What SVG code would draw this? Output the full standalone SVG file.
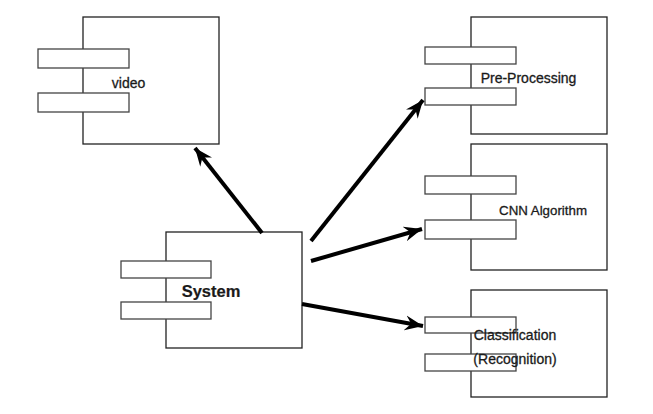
<svg xmlns="http://www.w3.org/2000/svg" width="653" height="414" viewBox="0 0 653 414">
<defs>
<style>
.box{fill:#fff;stroke:#222;stroke-width:1.3}
.port{fill:#fff;stroke:#444;stroke-width:1.3}
.lbl{font-family:"Liberation Sans",Arial,sans-serif;font-size:14px;fill:#1a1a1a;stroke:#1a1a1a;stroke-width:0.3;text-anchor:middle;dominant-baseline:central}
.conn{stroke:#000;stroke-width:4;fill:none;marker-end:url(#ah)}
</style>
<marker id="ah" viewBox="-18 -8 19 16" refX="0" refY="0" markerWidth="19" markerHeight="16" markerUnits="userSpaceOnUse" orient="auto">
<path d="M0,0 L-18,-7.5 L-12,0 L-18,7.5 Z" fill="#000"/>
</marker>
</defs>
<rect width="653" height="414" fill="#fff"/>
<g id="video">
<rect class="box" x="83" y="17" width="136" height="127"/>
<rect class="port" x="38" y="49" width="91" height="19"/>
<rect class="port" x="38" y="93" width="91" height="19"/>
<text class="lbl" x="128.5" y="83">video</text>
</g>
<g id="preprocessing">
<rect class="box" x="471" y="17" width="136" height="117"/>
<rect class="port" x="425" y="47" width="91" height="17"/>
<rect class="port" x="425" y="88" width="91" height="17"/>
<text class="lbl" x="528.5" y="78">Pre-Processing</text>
</g>
<g id="cnn">
<rect class="box" x="471" y="144" width="136" height="126"/>
<rect class="port" x="425" y="176" width="91" height="18"/>
<rect class="port" x="425" y="220" width="91" height="19"/>
<text class="lbl" x="543" y="210" style="font-size:13.3px">CNN Algorithm</text>
</g>
<g id="classification">
<rect class="box" x="471" y="290" width="136" height="107"/>
<rect class="port" x="425" y="317" width="91" height="16"/>
<rect class="port" x="425" y="354" width="91" height="17"/>
<text class="lbl" x="515" y="335">Classification</text>
<text class="lbl" x="515" y="359">(Recognition)</text>
</g>
<g id="system">
<rect class="box" x="166" y="232" width="136" height="116"/>
<rect class="port" x="121" y="261" width="90" height="17"/>
<rect class="port" x="121" y="302" width="90" height="17"/>
<text class="lbl" x="211" y="291" style="font-size:16.5px;font-weight:bold;stroke-width:0.2">System</text>
</g>
<g id="connectors">
<line class="conn" x1="262" y1="233" x2="195" y2="148"/>
<line class="conn" x1="311" y1="241" x2="423" y2="100"/>
<line class="conn" x1="311" y1="261" x2="422" y2="229"/>
<line class="conn" x1="302" y1="304" x2="423" y2="326"/>
</g>
</svg>
